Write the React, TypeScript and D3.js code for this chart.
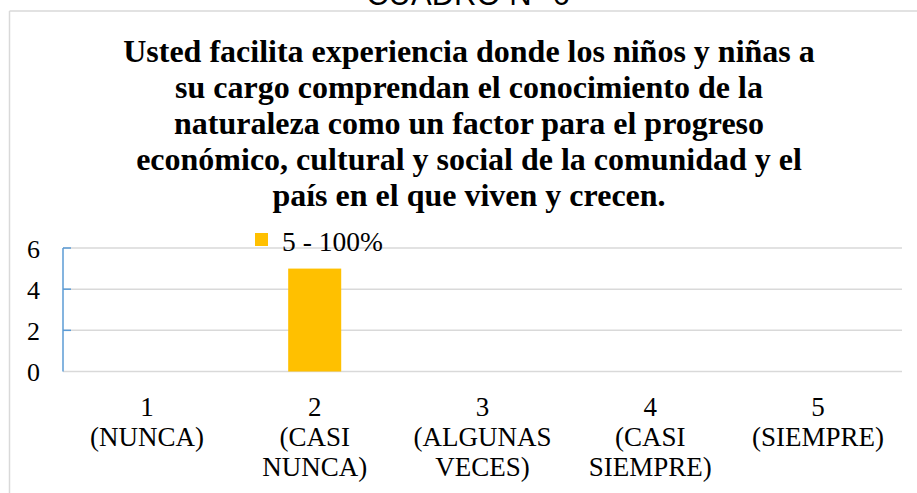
import React from "react";
import * as d3 from "d3";

const categories = ["1 (NUNCA)", "2 (CASI NUNCA)", "3 (ALGUNAS VECES)", "4 (CASI SIEMPRE)", "5 (SIEMPRE)"];
const categoryLines = [
  ["1", "(NUNCA)"],
  ["2", "(CASI", "NUNCA)"],
  ["3", "(ALGUNAS", "VECES)"],
  ["4", "(CASI", "SIEMPRE)"],
  ["5", "(SIEMPRE)"],
];
const values = [0, 5, 0, 0, 0];
const yTicks = [0, 2, 4, 6];
const legendLabel = "5 - 100%";
const titleLines = [
  "Usted facilita experiencia donde los niños y niñas a",
  "su cargo comprendan el conocimiento de la",
  "naturaleza como un factor para el progreso",
  "económico, cultural y social de la comunidad y el",
  "país en el que viven y crecen.",
];
const topLabel = "CUADRO N° 6";

const W = 917;
const H = 493;
const plot = { left: 63, right: 902, top: 248, bottom: 371.5 };

export default function App() {
  const x = d3.scaleBand<string>().domain(categories).range([plot.left, plot.right]).padding(0);
  const y = d3.scaleLinear().domain([0, 6]).range([plot.bottom, plot.top]);
  const barW = x.bandwidth() * 0.316;
  const serif = "Liberation Serif";

  return (
    <svg width={W} height={H} style={{ position: "absolute", left: 0, top: 0, background: "#fff" }}>
      <rect x={0} y={0} width={W} height={H} fill="#fff" />
      <text x={468} y={5} textAnchor="middle" fontFamily="Liberation Sans" fontSize={31} fill="#000">
        {topLabel}
      </text>
      {/* chart border */}
      <line x1={9.5} x2={W} y1={11} y2={11} stroke="#d9d9d9" strokeWidth={1.5} />
      <line x1={9.5} x2={9.5} y1={11} y2={H} stroke="#d9d9d9" strokeWidth={1.5} />

      {titleLines.map((t, i) => (
        <text key={i} x={469} y={61.5 + i * 36.2} textAnchor="middle" fontFamily={serif} fontWeight="bold" fontSize={32} fill="#000">
          {t}
        </text>
      ))}

      {/* gridlines */}
      {yTicks.map((t) => (
        <line key={t} x1={plot.left} x2={plot.right} y1={y(t)} y2={y(t)} stroke="#d9d9d9" strokeWidth={1.5} />
      ))}
      {/* y axis */}
      <line x1={plot.left} x2={plot.left} y1={y(6)} y2={y(0)} stroke="#5b9bd5" strokeWidth={1.5} />
      {yTicks.map((t) => (
        <g key={"t" + t}>
          {t > 0 && <line x1={plot.left} x2={plot.left + 8} y1={y(t)} y2={y(t)} stroke="#5b9bd5" strokeWidth={1.5} />}
          <text x={40} y={y(t) + 9.5} textAnchor="end" fontFamily={serif} fontSize={26} fill="#000">
            {t}
          </text>
        </g>
      ))}

      {/* bars */}
      {values.map((v, i) => (
        <rect
          key={i}
          x={(x(categories[i]) as number) + x.bandwidth() / 2 - barW / 2}
          y={y(v)}
          width={barW}
          height={y(0) - y(v)}
          fill="#ffc000"
        />
      ))}

      {/* legend */}
      <rect x={255} y={233} width={13} height={13} fill="#ffc000" />
      <text x={282} y={251} fontFamily={serif} fontSize={27.5} fill="#000">
        {legendLabel}
      </text>

      {/* category labels */}
      {categoryLines.map((lines, i) => (
        <text key={i} textAnchor="middle" fontFamily={serif} fontSize={27} fill="#000">
          {lines.map((l, j) => (
            <tspan key={j} x={(x(categories[i]) as number) + x.bandwidth() / 2} y={416 + j * 30}>
              {l}
            </tspan>
          ))}
        </text>
      ))}
    </svg>
  );
}
